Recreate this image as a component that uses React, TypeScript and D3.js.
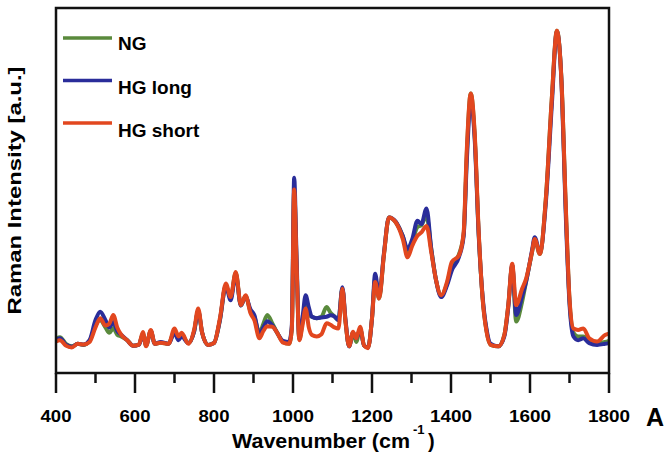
import React from 'react';
import * as d3 from 'd3';

// wavenumber sample positions (cm^-1)
const wavenumbers = [
  400, 410, 425, 440, 455, 470, 485, 500, 512, 525, 535, 545, 555, 565, 580, 595,
  610, 620, 628, 640, 650, 665, 685, 700, 710, 718, 735, 750, 760, 770, 785, 800,
  815, 830, 842, 855, 868, 880, 892, 902, 915, 925, 935, 948, 960, 975, 990, 997,
  1003, 1009, 1016, 1024, 1032, 1040, 1048, 1060, 1072, 1085, 1095, 1105, 1115, 1125,
  1133, 1142, 1152, 1160, 1170, 1180, 1190, 1200, 1208, 1218, 1230, 1243, 1260, 1278,
  1290, 1302, 1315, 1325, 1338, 1350, 1362, 1375, 1390, 1402, 1420, 1432, 1440, 1450,
  1460, 1470, 1480, 1490, 1500, 1520, 1535, 1545, 1555, 1565, 1580, 1590, 1605, 1612,
  1625, 1640, 1655, 1668, 1680, 1690, 1700, 1710, 1722, 1735, 1750, 1770, 1790, 1800,
];

const ngValues = [
  9.5, 9.8, 8, 7.3, 8, 7.7, 8.8, 13, 14.5, 12.5, 11, 12.3, 10.5, 10, 9, 7.5,
  7.8, 10.8, 7.5, 11.5, 8, 8.3, 8, 11.5, 10, 10.5, 8.2, 11.5, 17, 11, 7.7, 8.2,
  14.5, 24, 20.5, 27.5, 18.5, 21, 17, 15.5, 11, 13.5, 15.9, 13.5, 11, 8.5, 8, 12,
  49.9, 30, 9.2, 14, 19.5, 16, 15.4, 15, 15.4, 18.1, 16.5, 15.5, 14.5, 23.1,
  14, 7.3, 11, 8.5, 12, 7.5, 7, 15, 25.8, 20.4, 32.2, 42.6, 41.3, 37.5,
  33, 36, 40, 40.5, 43, 34, 25.5, 21.3, 24.5, 29.5, 32.5, 38, 60, 76.6,
  65, 38.5, 20.5, 11.5, 7.7, 7.3, 10.4, 18.5, 29.5, 14.1, 19.5, 25, 33, 36.5,
  32.6, 47.6, 74.8, 93.8, 79.5, 47, 20, 11, 10, 10, 9, 8.2, 8.5, 8.8,
];

const hgLongValues = [
  9, 9.5, 7.8, 7.2, 8, 7.8, 9, 14.5, 16.8, 14.5, 12.5, 14, 11.5, 10.5, 9, 7.5,
  7.8, 10.5, 7.6, 11.5, 8, 8.5, 8, 11, 9, 10, 8.2, 11.5, 17, 11, 7.7, 8.2,
  14.5, 24, 19.9, 27, 18.5, 21, 17.5, 15.9, 10.5, 12.5, 14.2, 13, 11, 8.8, 8.5, 13,
  53.5, 32, 9.5, 15, 21.3, 18, 15.4, 15, 15.2, 15.4, 15.8, 15.5, 14.5, 23.5,
  14.5, 7.3, 11, 9.5, 12, 7.5, 7, 15, 27.2, 21, 32.6, 42.6, 41.5, 37.5,
  34, 36.7, 41.7, 40.8, 45.1, 34, 25.5, 20.8, 24, 28.1, 31.7, 37.5, 58, 74.8,
  64, 38, 21, 12, 8, 7.3, 10, 18, 29.5, 15.9, 21, 25, 33.5, 37.2,
  33, 46.5, 73, 93.5, 79, 45, 19, 10, 9, 9.5, 8.2, 7.7, 8, 8.2,
];

const hgShortValues = [
  8.6, 9, 7.5, 7, 8, 7.8, 8.5, 12.5, 15, 13, 13.5, 15.9, 12.5, 10.5, 9, 7.5,
  7.8, 11.2, 7.3, 11.8, 8, 8.3, 8, 12.2, 10, 11, 8, 12, 17.7, 11, 7.7, 8.2,
  15, 24.5, 20.8, 27.7, 18.6, 21.3, 16.5, 14.5, 9.5, 11.5, 12.8, 12.7, 11, 8.3, 8, 12,
  50.3, 30, 9, 13, 17.7, 12.5, 10.4, 10, 10.6, 13.6, 13.2, 12.5, 12.2, 23.1,
  14, 7.3, 11.3, 9.5, 12.7, 7.5, 6.8, 15, 24.9, 20.4, 32.2, 42.6, 41.3, 36.7,
  31.7, 34.9, 37.6, 38.5, 40.3, 33.1, 25.5, 21.3, 25, 30.4, 32.2, 38.5, 61.2, 76.6,
  65.7, 39, 20.4, 11.3, 7.7, 7.3, 10.4, 18.6, 29.9, 18.6, 23.1, 25.8, 33.1, 36.7,
  32.6, 47.6, 74.8, 93.8, 79.3, 47.6, 20.4, 12.2, 11.8, 12.2, 9.5, 8.6, 10.4, 10.8,
];

const series = [
  { name: 'NG', color: '#5a8a3c', values: ngValues },
  { name: 'HG long', color: '#2a2d9a', values: hgLongValues },
  { name: 'HG short', color: '#e2471f', values: hgShortValues },
];

const majorTicks = [400, 600, 800, 1000, 1200, 1400, 1600, 1800];
const minorTicks = [500, 700, 900, 1100, 1300, 1500, 1700];

const W = 667;
const H = 454;
const left = 56, right = 609, top = 8, bottom = 373;

export default function App() {
  const x = d3.scaleLinear().domain([400, 1800]).range([left, right]);
  const y = d3.scaleLinear().domain([0, 100]).range([bottom, top]);

  const line = d3.line<number>()
    .x((_, i) => x(wavenumbers[i]))
    .y(d => y(d))
    .curve(d3.curveMonotoneX);

  const font = 'Arial, "Liberation Sans", Helvetica, sans-serif';

  return (
    <svg width={W} height={H} style={{ position: 'absolute', left: 0, top: 0, background: '#fff' }}
      fontFamily={font} fontWeight="bold">
      <defs>
        <clipPath id="plot">
          <rect x={left} y={top} width={right - left} height={bottom - top} />
        </clipPath>
      </defs>

      <g clipPath="url(#plot)">
        {series.map(s => (
          <path key={s.name} d={line(s.values) || ''} fill="none" stroke={s.color}
            strokeWidth={4} strokeLinejoin="round" strokeLinecap="round" />
        ))}
      </g>

      <rect x={left} y={top} width={right - left} height={bottom - top}
        fill="none" stroke="#111" strokeWidth={2.5} />

      {majorTicks.map(t => (
        <g key={t}>
          <line x1={x(t)} x2={x(t)} y1={bottom} y2={bottom + 20} stroke="#111" strokeWidth={2.5} />
          <text x={x(t)} y={422} textAnchor="middle" fontSize={17}
            textLength={String(t).length === 4 ? 42 : 31} lengthAdjust="spacingAndGlyphs">{t}</text>
        </g>
      ))}
      {minorTicks.map(t => (
        <line key={t} x1={x(t)} x2={x(t)} y1={bottom} y2={bottom + 10} stroke="#111" strokeWidth={2.5} />
      ))}

      <text x={232} y={448} fontSize={20} textLength={178} lengthAdjust="spacingAndGlyphs">Wavenumber (cm</text>
      <text x={413} y={434} fontSize={13}>-1</text>
      <text x={428} y={448} fontSize={20}>)</text>

      <text x={646} y={426} fontSize={25}>A</text>

      <text transform={`translate(21,${(top + bottom) / 2}) rotate(-90)`} textAnchor="middle"
        fontSize={18} textLength={248} lengthAdjust="spacingAndGlyphs">Raman Intensity [a.u.]</text>

      {series.map((s, i) => (
        <g key={s.name}>
          <line x1={63} x2={112} y1={38 + i * 42.5} y2={38 + i * 42.5} stroke={s.color} strokeWidth={3.5} />
          <text x={118} y={50 + i * 43.5} fontSize={19}>{s.name}</text>
        </g>
      ))}
    </svg>
  );
}
